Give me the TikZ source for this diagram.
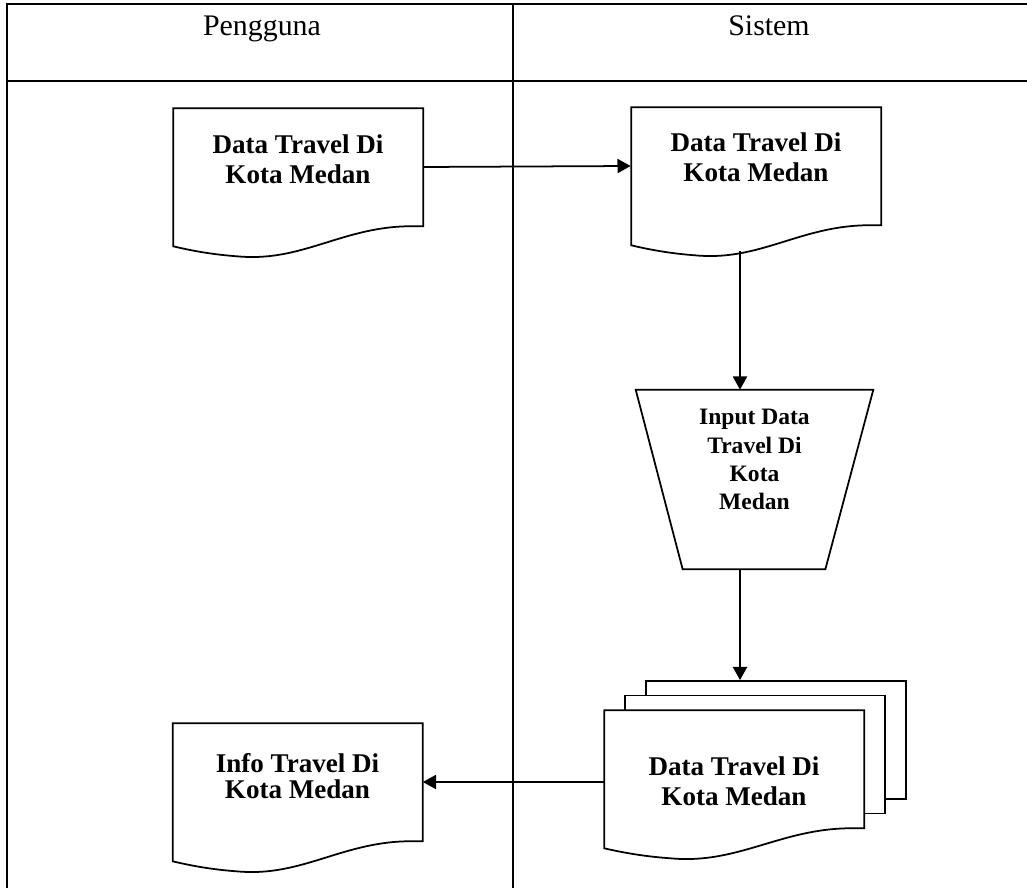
\documentclass[tikz,border=0pt]{standalone}
\usepackage{fontspec}
\setmainfont{Liberation Serif}
\usetikzlibrary{arrows.meta}

\tikzset{
    arr/.style={-{Triangle[length=7.5pt,width=8pt]}, line width=1pt},
    docbox/.style={minimum width=5cm, minimum height=2.36cm, inner sep=0pt},
    doctext/.style={align=center, font=\fontsize{15.4}{17}\selectfont\bfseries},
    sheet/.style={draw, fill=white, line width=1pt, minimum width=5.2cm, minimum height=2.36cm, inner sep=0pt},
    hdr/.style={anchor=base, font=\fontsize{17}{20}\selectfont},
}

\newcommand{\docframe}[2]{%
    \draw [line width=1pt, fill=white, shift={(#1.south east)}, xscale=#2]
        (0,0) -- (-18,0) .. controls (-83,2) and (-123,36) .. (-186,30)
        .. controls (-213,28) and (-233,24) .. (-250,20) -- (-250,-118) -- (0,-118) -- cycle;
}

\begin{document}
\begin{tikzpicture}[x=0.02cm, y=-0.02cm]
    \useasboundingbox (0,0) rectangle (1027,888);

    \draw [line width=1.3pt] (7,888) -- (7,4) -- (1027,4);
    \draw [line width=1.3pt] (7,81) -- (1027,81);
    \draw [line width=1.2pt] (513,4) -- (513,888);
    \node [hdr] (pengguna) at (262,36) {Pengguna};
    \node [hdr] (sistem) at (769,36) {Sistem};

    \node [docbox] (d1) at (298,167) {};
    \docframe{d1}{1}
    \node [doctext] (d1t) at ([yshift=0.16cm]d1.center) {Data Travel Di\\Kota Medan};

    \node [docbox] (d2) at (756,166) {};
    \docframe{d2}{1}
    \node [doctext] (d2t) at ([yshift=0.18cm]d2.center) {Data Travel Di\\Kota Medan};

    \node [minimum width=4.74cm, minimum height=3.58cm, inner sep=0pt] (inp) at (754.5,479.5) {};
    \draw [line width=1pt] (inp.north west) -- (inp.north east) -- ([xshift=-0.96cm]inp.south east) -- ([xshift=0.94cm]inp.south west) -- cycle;
    \node [align=center, font=\fontsize{13.4}{16}\selectfont\bfseries] (inpt) at ([yshift=0.4cm]inp.center) {Input Data\\Travel Di\\Kota\\Medan};

    \node [docbox, minimum width=5.2cm] (md1) at (734,769) {};
    \node [sheet] (md3) at ([shift={(42,-29)}]md1.center) {};
    \node [sheet] (md2) at ([shift={(21,-14.5)}]md1.center) {};
    \docframe{md1}{1.04}
    \node [doctext] (md1t) at ([yshift=-0.24cm]md1.center) {Data Travel Di\\Kota Medan};

    \node [docbox] (d3) at (297.5,782) {};
    \docframe{d3}{1}
    \node [doctext, font=\fontsize{15.4}{15}\selectfont\bfseries] (d3t) at ([yshift=0.12cm]d3.center) {Info Travel Di\\Kota Medan};

    \draw [arr] (d1.east) -- (d2.west);
    \coordinate (flow) at ([xshift=-0.32cm,yshift=-0.52cm]d2.south);
    \draw [arr] (flow) -- (flow |- inp.north);
    \draw [arr] (flow |- inp.south) -- (flow |- md3.north);
    \draw [arr] (md1.west |- d3.east) -- (d3.east);
\end{tikzpicture}
\end{document}
